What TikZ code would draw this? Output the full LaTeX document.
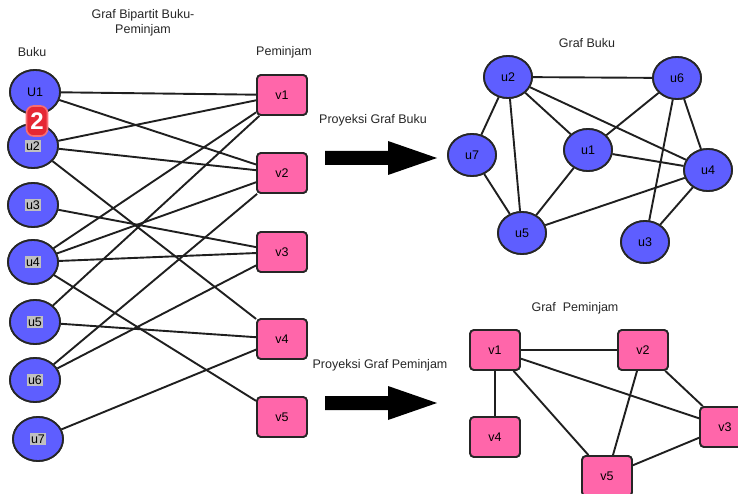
\documentclass[tikz,border=0pt]{standalone}
\usepackage{fontspec}
\setmainfont{Liberation Sans}
\usetikzlibrary{shapes.geometric}
\definecolor{bluenode}{RGB}{94,94,255}
\definecolor{pinknode}{RGB}{255,102,170}
\definecolor{hlgray}{RGB}{192,192,192}
\definecolor{badgered}{RGB}{230,40,52}
\definecolor{badgeedge}{RGB}{248,110,115}
\newcommand{\hl}[1]{{\setlength{\fboxsep}{1.3pt}\colorbox{hlgray}{#1}}}
\tikzset{
  bnode/.style={ellipse, draw=black!85, line width=1.8pt, fill=bluenode, minimum width=50pt, minimum height=44pt, inner sep=0pt, font=\fontsize{12.5}{14}\selectfont},
  pnode/.style={rectangle, rounded corners=4pt, draw=black!85, line width=1.8pt, fill=pinknode, minimum width=50pt, minimum height=40pt, inner sep=0pt, font=\fontsize{12.5}{14}\selectfont},
  edge/.style={line width=1.9pt, black!88},
  lbl/.style={font=\fontsize{12.5}{14.5}\selectfont, text=black!85, inner sep=0pt, align=center},
  bigarrow/.style={fill=black, draw=none}
}
\begin{document}
\begin{tikzpicture}[x=1pt,y=-1pt]
\useasboundingbox (0,0) rectangle (738,494);
% titles
\node[lbl] (tbip) at (143,23) {Graf Bipartit Buku-\\Peminjam};
\node[lbl] (tbuku) at (32,52) {Buku};
\node[lbl] (tpem) at (284,52) {Peminjam};
% bipartite nodes
\node[bnode] (a1) at (35,92) {U1};
\node[bnode] (a2) at (33,146) {\hl{u2}};
\node[bnode] (a3) at (33,205) {\hl{u3}};
\node[bnode] (a4) at (33,262) {\hl{u4}};
\node[bnode] (a5) at (35,322) {\hl{u5}};
\node[bnode] (a6) at (35,380) {\hl{u6}};
\node[bnode] (a7) at (38,439) {\hl{u7}};
\node[pnode] (b1) at (282,95) {v1};
\node[pnode] (b2) at (282,173) {v2};
\node[pnode] (b3) at (282,252) {v3};
\node[pnode] (b4) at (282,339) {v4};
\node[pnode] (b5) at (282,417) {v5};
% bipartite edges
\foreach \s/\t in {a1/b1,a1/b2,a2/b1,a2/b2,a2/b4,a3/b3,a4/b1,a4/b2,a4/b3,a4/b5,a5/b1,a5/b4,a6/b2,a6/b3,a7/b4}
  \draw[edge] (\s) -- (\t);
% redraw nodes on top
\node[bnode] at (a1) {U1};
\node[bnode] at (a2) {\hl{u2}};
\node[bnode] at (a3) {\hl{u3}};
\node[bnode] at (a4) {\hl{u4}};
\node[bnode] at (a5) {\hl{u5}};
\node[bnode] at (a6) {\hl{u6}};
\node[bnode] at (a7) {\hl{u7}};
\node[pnode] at (b1) {v1};
\node[pnode] at (b2) {v2};
\node[pnode] at (b3) {v3};
\node[pnode] at (b4) {v4};
\node[pnode] at (b5) {v5};
% badge
\node[rectangle, rounded corners=7pt, fill=badgered, draw=badgeedge, line width=1.6pt, minimum width=21pt, minimum height=30pt, inner sep=0pt, text=white, font=\fontsize{24}{24}\selectfont\bfseries] (badge) at (37,121) {2};
% arrows and their labels
\node[lbl] (lproj1) at (373,120) {Proyeksi Graf Buku};
\fill[bigarrow] (325,151) -- (388,151) -- (388,141) -- (437,158) -- (388,175) -- (388,165) -- (325,165) -- cycle;
\node[lbl] (lproj2) at (380,365) {Proyeksi Graf Peminjam};
\fill[bigarrow] (325,396) -- (388,396) -- (388,386) -- (437,403) -- (388,420) -- (388,410) -- (325,410) -- cycle;
% Graf Buku
\node[lbl] (tgb) at (587,43) {Graf Buku};
\begin{scope}[every node/.style={bnode, minimum width=48pt, minimum height=42pt}]
\node (c2) at (508,77) {u2};
\node (c6) at (677,78) {u6};
\node (c7) at (472,155) {u7};
\node (c1) at (588,150) {u1};
\node (c4) at (708,170) {u4};
\node (c5) at (522,233) {u5};
\node (c3) at (645,242) {u3};
\end{scope}
\foreach \s/\t in {c2/c6,c2/c7,c2/c5,c2/c1,c2/c4,c6/c1,c6/c4,c6/c3,c1/c4,c1/c5,c7/c5,c5/c4,c3/c4}
  \draw[edge] (\s) -- (\t);
\begin{scope}[every node/.style={bnode, minimum width=48pt, minimum height=42pt}]
\node at (c2) {u2};
\node at (c6) {u6};
\node at (c7) {u7};
\node at (c1) {u1};
\node at (c4) {u4};
\node at (c5) {u5};
\node at (c3) {u3};
\end{scope}
% Graf Peminjam
\node[lbl] (tgp) at (575,308) {Graf\ \ Peminjam};
\node[pnode] (d1) at (495,350) {v1};
\node[pnode] (d2) at (643,350) {v2};
\node[pnode] (d4) at (495,437) {v4};
\node[pnode] (d3) at (725,427) {v3};
\node[pnode] (d5) at (607,476) {v5};
\foreach \s/\t in {d1/d2,d1/d4,d1/d5,d1/d3,d2/d5,d2/d3,d3/d5}
  \draw[edge] (\s) -- (\t);
\node[pnode] at (d1) {v1};
\node[pnode] at (d2) {v2};
\node[pnode] at (d4) {v4};
\node[pnode] at (d3) {v3};
\node[pnode] at (d5) {v5};
\end{tikzpicture}
\end{document}
